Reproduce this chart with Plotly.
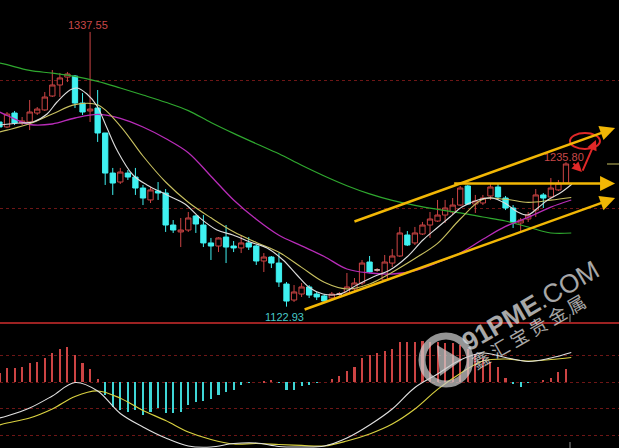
import plotly.graph_objects as go

# ---------------- data ----------------
idx = list(range(-1, 75))
opens = [1267.2, 1263.3, 1274.2, 1266.4, 1267.2, 1274.2, 1276.6, 1287.5, 1296.1, 1302.3,
         1303.1, 1282.0, 1275.8, 1278.1, 1258.6, 1227.3, 1220.3, 1227.3, 1224.2, 1215.6,
         1206.3, 1213.3, 1211.7, 1186.7, 1181.3, 1182.8, 1193.8, 1186.7, 1172.7, 1170.3,
         1177.3, 1170.3, 1168.8, 1172.7, 1170.3, 1158.6, 1161.7, 1157.0, 1140.6, 1128.1,
         1132.8, 1138.3, 1132.8, 1131.3, 1129.7, 1132.8, 1133.6, 1136.7, 1141.4, 1157.8,
         1151.6, 1143.8, 1157.0, 1162.5, 1178.9, 1172.7, 1179.7, 1186.7, 1189.8, 1194.5,
         1196.9, 1202.3, 1217.2, 1203.1, 1203.9, 1209.4, 1216.4, 1207.8, 1200.0, 1188.3,
         1191.4, 1198.4, 1210.2, 1208.6, 1214.1, 1219.5]
highs = [1268.8, 1275.0, 1275.8, 1271.1, 1284.4, 1278.9, 1290.6, 1307.8, 1305.5, 1306.3,
         1303.9, 1289.8, 1337.55, 1292.2, 1258.6, 1231.3, 1231.3, 1229.7, 1231.3, 1218.0,
         1216.4, 1220.3, 1214.8, 1190.6, 1192.2, 1196.9, 1194.5, 1194.5, 1176.6, 1177.3,
         1186.7, 1174.2, 1178.9, 1177.3, 1171.1, 1164.8, 1162.5, 1164.8, 1142.2, 1139.8,
         1141.4, 1139.8, 1134.4, 1132.8, 1134.4, 1134.4, 1149.2, 1145.3, 1159.4, 1162.5,
         1153.1, 1163.3, 1168.0, 1185.2, 1182.0, 1185.2, 1189.1, 1196.9, 1206.3, 1206.3,
         1207.8, 1217.2, 1218.0, 1210.2, 1210.2, 1219.5, 1219.5, 1209.4, 1202.3, 1192.2,
         1196.9, 1214.8, 1211.7, 1223.4, 1221.9, 1235.8]
lows = [1261.7, 1262.5, 1264.8, 1264.8, 1260.9, 1272.7, 1275.8, 1286.7, 1286.7, 1298.4,
        1278.1, 1272.7, 1267.2, 1251.6, 1218.0, 1210.2, 1218.8, 1221.9, 1210.2, 1202.3,
        1203.9, 1206.3, 1181.3, 1180.5, 1169.5, 1181.3, 1180.5, 1169.5, 1159.4, 1165.6,
        1157.0, 1165.6, 1164.8, 1167.2, 1155.5, 1150.0, 1153.1, 1138.3, 1122.93, 1126.6,
        1130.5, 1129.7, 1128.1, 1126.6, 1128.1, 1131.3, 1132.0, 1134.4, 1139.8, 1149.2,
        1150.0, 1142.2, 1153.9, 1161.7, 1170.3, 1171.1, 1178.9, 1176.6, 1189.1, 1188.3,
        1194.5, 1201.6, 1202.3, 1196.1, 1202.3, 1206.3, 1206.3, 1198.4, 1184.4, 1180.5,
        1189.1, 1193.0, 1200.0, 1207.8, 1213.3, 1219.0]
closes = [1263.3, 1273.4, 1266.4, 1268.0, 1275.0, 1277.3, 1286.7, 1296.1, 1301.6, 1304.7,
          1282.0, 1275.0, 1277.3, 1258.6, 1227.3, 1219.5, 1228.1, 1224.2, 1215.6, 1207.8,
          1214.1, 1211.7, 1186.7, 1182.8, 1182.8, 1192.2, 1187.5, 1172.7, 1170.3, 1176.6,
          1169.5, 1168.8, 1172.7, 1169.5, 1158.6, 1161.7, 1157.0, 1142.2, 1127.3, 1134.4,
          1138.3, 1132.0, 1130.5, 1127.3, 1132.8, 1132.8, 1138.3, 1141.4, 1157.0, 1150.0,
          1151.6, 1157.8, 1162.5, 1180.5, 1171.1, 1180.5, 1186.7, 1191.4, 1194.5, 1200.0,
          1202.3, 1215.6, 1203.1, 1205.5, 1207.8, 1216.4, 1208.6, 1200.0, 1189.1, 1190.6,
          1194.5, 1210.2, 1207.8, 1215.6, 1219.5, 1234.4]

ma5_x = [-0.93, 1.72, 3.44, 5.3, 6.62, 8.34, 9.27, 10.59, 11.91, 13.24, 14.56, 16.68, 18.53,
         21.18, 23.56, 25.55, 27.8, 29.92, 32.17, 34.42, 36.54, 38.39, 40.11, 41.83, 44.08,
         46.33, 48.45, 50.7, 52.95, 55.07, 56.92, 58.64, 60.23, 62.35, 64.2, 65.89, 67.61,
         68.93, 70.26, 71.58, 73.43, 74.8]
ma5 = [1264.84, 1266.41, 1267.19, 1273.44, 1282.81, 1292.19, 1293.75, 1289.06, 1279.69,
       1262.5, 1245.31, 1225.78, 1218.0, 1210.16, 1203.13, 1192.19, 1182.81, 1178.91,
       1173.44, 1168.75, 1159.38, 1147.66, 1137.5, 1132.81, 1132.81, 1139.84, 1146.09,
       1151.56, 1161.72, 1175.0, 1184.38, 1192.97, 1200.78, 1206.25, 1207.81, 1203.91,
       1196.88, 1194.53, 1200.0, 1206.25, 1212.5, 1218.75]

ma_x = [-1, 0, 3, 6, 9, 12, 15, 18, 21, 24, 27, 30, 33, 36, 39, 42, 45, 48, 51, 54, 57,
        60, 63, 66, 69, 72, 74.7]
ma10 = [1259.38, 1260.86, 1265.78, 1273.44, 1280.78, 1280.63, 1264.06, 1240.63, 1220.31,
        1204.53, 1192.34, 1181.41, 1173.13, 1165.39, 1153.59, 1141.95, 1136.72, 1140.63,
        1149.84, 1160.55, 1172.34, 1191.41, 1206.88, 1206.8, 1204.38, 1206.17, 1208.2]
ma20 = [1275.0, 1272.27, 1265.23, 1265.63, 1270.31, 1273.13, 1270.08, 1263.28, 1254.3,
        1243.2, 1224.84, 1206.25, 1191.25, 1178.75, 1170.47, 1162.11, 1152.34, 1149.22,
        1148.44, 1151.17, 1157.42, 1164.84, 1175.55, 1185.63, 1192.66, 1200.7, 1206.25]
ma60 = [1313.28, 1311.95, 1307.5, 1305.31, 1302.81, 1298.91, 1293.75, 1288.28, 1282.58,
        1276.09, 1266.8, 1258.28, 1250.23, 1242.34, 1233.36, 1225.0, 1217.42, 1211.02,
        1205.94, 1202.11, 1198.98, 1196.17, 1192.97, 1189.84, 1185.16, 1180.47, 1180.47]

macd_hist = [1.75, 2.7, 2.7, 2.9, 3.64, 3.83, 4.58, 5.53, 6.28, 6.66,
             5.15, 3.64, 2.51, 0.62, -2.4, -4.66, -5.23, -5.6, -5.23, -6.17,
             -5.6, -4.85, -5.79, -5.79, -5.6, -4.28, -3.72, -3.53, -3.15, -2.4,
             -1.83, -1.45, -0.51, -0.13, 0.0, 0.25, 0.43, -0.13, -1.45, -1.45,
             -0.7, -0.51, -0.13, 0.0, 0.62, 1.19, 2.13, 2.89, 4.58, 5.15,
             5.53, 5.9, 6.28, 7.6, 7.6, 7.6, 7.79, 7.6, 7.6, 7.42,
             7.42, 7.04, 6.28, 5.34, 4.58, 3.83, 2.89, 0.81, -0.23, -0.89,
             -0.13, 0.0, 0.43, 0.81, 1.94, 2.51]
dif = [-6.74, -6.36, -4.85, -2.58, -0.04, -1.64, -5.89, -8.43, -10.51, -12.02, -12.21,
       -11.55, -11.45, -12.11, -12.21, -12.02, -10.51, -8.06, -5.04, -0.98, 1.57, 4.21,
       5.53, 4.68, 3.92, 4.58, 5.62]
dea = [-8.06, -7.68, -6.74, -5.04, -2.68, -1.64, -3.0, -5.32, -7.21, -9.38, -10.79,
       -11.64, -11.55, -11.74, -11.92, -12.02, -11.08, -9.75, -7.87, -5.04, -1.34, 1.66,
       4.02, 4.4, 4.02, 4.3, 4.68]

label_high = "1337.55"
label_low = "1122.93"
label_last = "1235.80"

# ---------------- styles ----------------
RED = "#cc4444"
CYAN = "#3ff0f0"
GRID = "#6e1616"
W, H = 619, 448
split = 1 - 323 / H

fig = go.Figure()

fig.add_trace(go.Candlestick(
    x=idx, open=opens, high=highs, low=lows, close=closes,
    increasing=dict(line=dict(color=RED, width=1), fillcolor="black"),
    decreasing=dict(line=dict(color=CYAN, width=1), fillcolor=CYAN),
    whiskerwidth=0, hoverinfo="skip", xaxis="x", yaxis="y"))

# doji candles shown as light dashes
dx, dy = [], []
for i, o, c in zip(idx, opens, closes):
    if o == c:
        dx += [i - 0.35, i + 0.35, None]
        dy += [o, o, None]
fig.add_trace(go.Scatter(x=dx, y=dy, mode="lines", line=dict(color="#c8c8c8", width=1.5),
                         hoverinfo="skip", xaxis="x", yaxis="y"))

fig.add_trace(go.Scatter(x=ma_x, y=ma60, mode="lines", line=dict(color="#2fa82f", width=1.2, shape="spline"),
                         hoverinfo="skip", xaxis="x", yaxis="y"))
fig.add_trace(go.Scatter(x=ma_x, y=ma20, mode="lines", line=dict(color="#b82cb8", width=1.3, shape="spline"),
                         hoverinfo="skip", xaxis="x", yaxis="y"))
fig.add_trace(go.Scatter(x=ma_x, y=ma10, mode="lines", line=dict(color="#c8c060", width=1.1, shape="spline"),
                         hoverinfo="skip", xaxis="x", yaxis="y"))
fig.add_trace(go.Scatter(x=ma5_x, y=ma5, mode="lines", line=dict(color="#dcdcdc", width=1.1, shape="spline"),
                         hoverinfo="skip", xaxis="x", yaxis="y"))

# MACD panel
fig.add_trace(go.Bar(x=idx, y=macd_hist, width=0.28,
                     marker=dict(color=[RED if v >= 0 else "#3fd6d6" for v in macd_hist], line=dict(width=0)),
                     hoverinfo="skip", xaxis="x2", yaxis="y2"))
fig.add_trace(go.Scatter(x=ma_x, y=dea, mode="lines", line=dict(color="#d8d040", width=1.2, shape="spline"),
                         hoverinfo="skip", xaxis="x2", yaxis="y2"))
fig.add_trace(go.Scatter(x=ma_x, y=dif, mode="lines", line=dict(color="#e0e0e0", width=1.1, shape="spline"),
                         hoverinfo="skip", xaxis="x2", yaxis="y2"))

xr = [-0.927, 81.02]
fig.update_layout(
    width=W, height=H, margin=dict(l=0, r=0, t=0, b=0),
    paper_bgcolor="black", plot_bgcolor="black", showlegend=False,
    boxgap=0.3, boxgroupgap=0, bargap=0,
    xaxis=dict(range=xr, domain=[0, 1], anchor="y", showgrid=False, zeroline=False,
               showticklabels=False, ticks="", showline=False, rangeslider=dict(visible=False)),
    yaxis=dict(domain=[split, 1], range=[1110.16, 1362.5], tickvals=[1200, 1300],
               showgrid=True, gridcolor=GRID, griddash="dot", gridwidth=1,
               zeroline=False, showticklabels=False, ticks="", showline=False),
    xaxis2=dict(range=xr, domain=[0, 1], anchor="y2", matches="x", showgrid=False, zeroline=False,
                showticklabels=False, ticks="", showline=False),
    yaxis2=dict(domain=[0, split], range=[-12.4, 11.19], tickvals=[-10, -5, 0, 5],
                showgrid=True, gridcolor=GRID, griddash="dot", gridwidth=1,
                zeroline=False, showticklabels=False, ticks="", showline=False),
)

shapes = [
    dict(type="line", xref="paper", yref="paper", x0=0, x1=1, y0=split, y1=split,
         line=dict(color="#9c2222", width=2)),
    dict(type="circle", xref="x", yref="y", x0=74.53, x1=78.5, y0=1246.1, y1=1258.6,
         line=dict(color="#e02828", width=2)),
    # cursor ticks / price marker
    dict(type="line", xref="paper", yref="paper", x0=570 / W, x1=570 / W, y0=1 - 322 / H, y1=1 - 314 / H,
         line=dict(color="#909090", width=1)),
    dict(type="line", xref="paper", yref="paper", x0=570 / W, x1=570 / W, y0=0, y1=1 - 442 / H,
         line=dict(color="#909090", width=1)),
    dict(type="line", xref="paper", yref="paper", x0=607 / W, x1=1, y0=1 - 164 / H, y1=1 - 164 / H,
         line=dict(color="#c8c060", width=1)),
    # watermark logo
    dict(type="circle", xref="paper", yref="paper", x0=(446 - 24) / W, x1=(446 + 24) / W,
         y0=1 - (360 + 24) / H, y1=1 - (360 - 24) / H,
         line=dict(color="rgba(205,205,205,0.72)", width=7)),
    dict(type="path", xref="paper", yref="paper",
         path=f"M {437/W},{1-345/H} L {462/W},{1-360/H} L {440/W},{1-376/H} Z",
         fillcolor="rgba(205,205,205,0.72)", line=dict(width=0)),
]
fig.update_layout(shapes=shapes)

ARROW = "#f2b705"
ann = [
    dict(x=10.7, y=1342.97, xref="x", yref="y", text=label_high, showarrow=False,
         font=dict(color="#c84848", size=11, family="Liberation Sans")),
    dict(x=36.67, y=1114.84, xref="x", yref="y", text=label_low, showarrow=False,
         font=dict(color="#48c8c8", size=11, family="Liberation Sans")),
    dict(x=73.74, y=1239.84, xref="x", yref="y", text=label_last, showarrow=False,
         font=dict(color="#c84848", size=11, family="Liberation Sans")),
    # channel arrows
    dict(x=80.5, y=1262.5, ax=45.8, ay=1189.06, xref="x", yref="y", axref="x", ayref="y",
         text="", showarrow=True, arrowhead=2, arrowsize=1.2, arrowwidth=2.5, arrowcolor=ARROW),
    dict(x=80.5, y=1219.1, ax=59.0, ay=1219.1, xref="x", yref="y", axref="x", ayref="y",
         text="", showarrow=True, arrowhead=2, arrowsize=1.2, arrowwidth=2.5, arrowcolor=ARROW),
    dict(x=80.5, y=1207.8, ax=39.2, ay=1120.3, xref="x", yref="y", axref="x", ayref="y",
         text="", showarrow=True, arrowhead=2, arrowsize=1.2, arrowwidth=2.5, arrowcolor=ARROW),
    # red arrows
    dict(x=76.12, y=1228.1, ax=74.78, ay=1236.0, xref="x", yref="y", axref="x", ayref="y",
         text="", showarrow=True, arrowhead=2, arrowsize=1, arrowwidth=2, arrowcolor="#e02828"),
    dict(x=77.97, y=1253.1, ax=76.12, ay=1228.1, xref="x", yref="y", axref="x", ayref="y",
         text="", showarrow=True, arrowhead=2, arrowsize=1, arrowwidth=2, arrowcolor="#e02828"),
    # watermark text
    dict(x=530 / W, y=1 - 306 / H, xref="paper", yref="paper", text="<b>91PME</b>.COM",
         showarrow=False, textangle=-30, xanchor="center", yanchor="middle",
         font=dict(color="rgba(225,225,225,0.75)", size=26, family="Liberation Sans")),
    dict(x=528 / W, y=1 - 331 / H, xref="paper", yref="paper", text="鑫 汇 宝 贵 金 属",
         showarrow=False, textangle=-30, xanchor="center", yanchor="middle",
         font=dict(color="rgba(225,225,225,0.75)", size=18, family="Noto Sans CJK SC")),
]
fig.update_layout(annotations=ann)

fig.write_html("out.html", config={"displayModeBar": False}, post_script=(
    "document.body.style.margin='0';document.body.style.padding='0';"
    "document.body.style.background='black';document.body.style.overflow='hidden';"))
